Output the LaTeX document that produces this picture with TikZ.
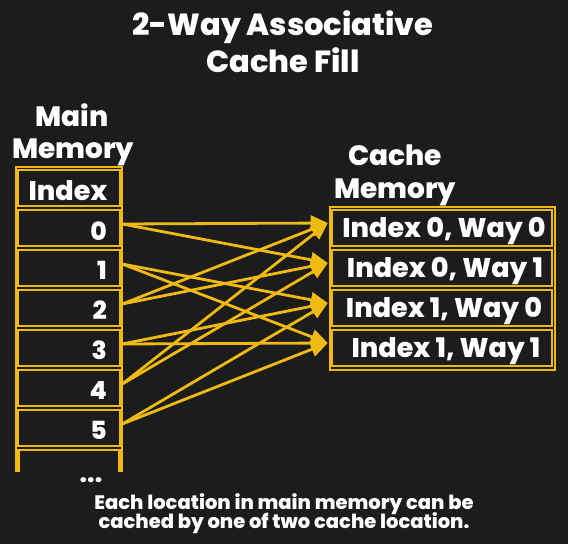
\documentclass[tikz,border=0pt]{standalone}
\usepackage{fontspec}
\IfFontExistsTF{Poppins ExtraBold}{%
  \setmainfont{Poppins}[BoldFont={Poppins ExtraBold}]%
}{%
  \setmainfont{Poppins}[BoldFeatures={FakeBold=1.2}]%
}
\usetikzlibrary{arrows.meta}
\definecolor{bg}{HTML}{1C1C1C}
\definecolor{gold}{HTML}{F0BA12}
\tikzset{
  txt/.style={text=white, font=\bfseries, inner sep=0pt, anchor=base},
  mcell/.style={draw=gold, line width=2.5pt, rectangle, minimum width=102pt, minimum height=36pt, inner sep=0pt},
  ccell/.style={draw=gold, line width=2.5pt, rectangle, minimum width=220pt, minimum height=36pt, inner sep=0pt},
  frame/.style={draw=gold, line width=2.5pt},
  link/.style={draw=gold, line width=2.8pt, -{Triangle[length=17pt,width=15pt]}},
}
\begin{document}
\begin{tikzpicture}[x=1pt,y=-1pt]
\fill[bg] (0,0) rectangle (568,544);
\useasboundingbox (0,0) rectangle (568,544);
% title
\node[txt, font=\fontsize{30.5}{31}\selectfont\bfseries] (t1) at (283,35) {2-Way Associative};
\node[txt, font=\fontsize{30.5}{31}\selectfont\bfseries] (t2) at (283,72) {Cache Fill};
% main memory heading
\node[txt, font=\fontsize{28}{29}\selectfont\bfseries] (mh1) at (72,126) {Main};
\node[txt, font=\fontsize{28}{29}\selectfont\bfseries] (mh2) at (73,158) {Memory};
% main memory frame
\draw[frame] (16,472) -- (16,167) -- (122,167) -- (122,472);
\draw[frame] (18.5,472) -- (18.5,450) -- (119.5,450) -- (119.5,472);
\node[mcell] (mi) at (69,188) {};
\node[mcell] (m0) at (69,228) {};
\node[mcell] (m1) at (69,268) {};
\node[mcell] (m2) at (69,308) {};
\node[mcell] (m3) at (69,348) {};
\node[mcell] (m4) at (69,388) {};
\node[mcell] (m5) at (69,428) {};
\node[txt, font=\fontsize{27}{28}\selectfont\bfseries] (li) at (68,200) {Index};
\foreach \i/\y in {0/240,1/279.5,2/319.5,3/359.5,4/399.5,5/439.5}{
  \node[txt, anchor=base east, font=\fontsize{25}{26}\selectfont\bfseries] (l\i) at (107,\y) {\i};
}
\node[txt, font=\fontsize{25}{26}\selectfont\bfseries] (dots) at (91,482) {...};
% cache heading
\node[txt, font=\fontsize{28}{29}\selectfont\bfseries] (ch1) at (395,165) {Cache};
\node[txt, font=\fontsize{28}{29}\selectfont\bfseries] (ch2) at (395,198) {Memory};
% cache frame
\draw[frame] (330,207) rectangle (555,370);
\node[ccell] (c0) at (442,228) {};
\node[ccell] (c1) at (442,268) {};
\node[ccell] (c2) at (442,308) {};
\node[ccell] (c3) at (442,348) {};
\node[txt, font=\fontsize{27}{28}\selectfont\bfseries] (k0) at (444,237) {Index 0, Way 0};
\node[txt, font=\fontsize{27}{28}\selectfont\bfseries] (k1) at (445,277) {Index 0, Way 1};
\node[txt, font=\fontsize{27}{28}\selectfont\bfseries] (k2) at (444,317) {Index 1, Way 0};
\node[txt, font=\fontsize{27}{28}\selectfont\bfseries] (k3) at (446,357) {Index 1, Way 1};
% connectors
\foreach \s/\t in {m0/c0,m0/c1,m2/c0,m2/c1,m4/c0,m4/c1,m1/c2,m1/c3,m3/c2,m3/c3,m5/c2,m5/c3}{
  \draw[link] ([xshift=1pt,yshift=4pt]\s.east) -- ([xshift=-3pt,yshift=5pt]\t.west);
}
% footer
\node[txt, font=\fontsize{19.5}{20}\selectfont\bfseries] (f1) at (284,509) {Each location in main memory can be};
\node[txt, font=\fontsize{19.5}{20}\selectfont\bfseries] (f2) at (284,528) {cached by one of two cache location.};
\end{tikzpicture}
\end{document}
